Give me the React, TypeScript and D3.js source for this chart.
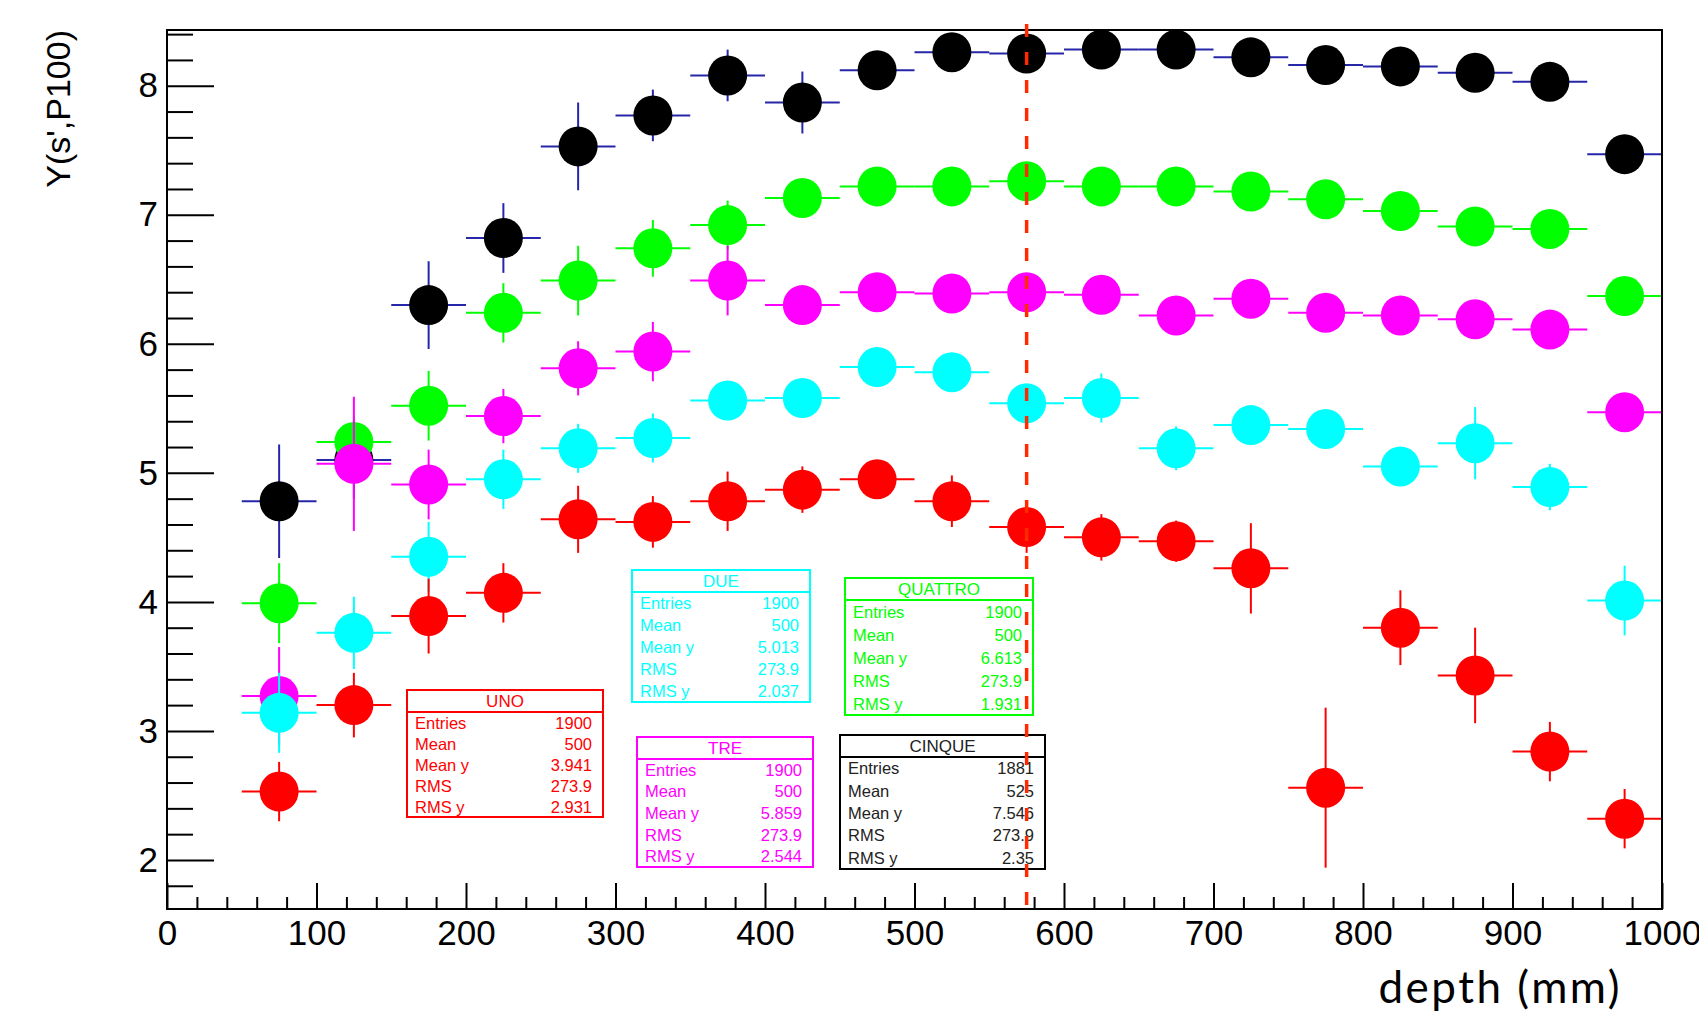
import React, { useEffect, useRef } from 'react';
import * as d3 from 'd3';

// bin centres (mm)
const depth = [75, 125, 175, 225, 275, 325, 375, 425, 475, 525, 575, 625, 675, 725, 775, 825, 875, 925, 975];

// values
const uno = [2.53, 3.2, 3.89, 4.07, 4.64, 4.62, 4.78, 4.87, 4.95, 4.78, 4.58, 4.5, 4.47, 4.26, 2.56, 3.8, 3.43, 2.84, 2.32];
const unoErr = [0.23, 0.25, 0.29, 0.23, 0.26, 0.2, 0.23, 0.18, 0.14, 0.2, 0.2, 0.18, 0.16, 0.35, 0.62, 0.29, 0.37, 0.23, 0.23];

const due = [3.14, 3.76, 4.35, 4.95, 5.19, 5.27, 5.56, 5.58, 5.82, 5.78, 5.54, 5.58, 5.19, 5.37, 5.34, 5.05, 5.23, 4.89, 4.01];
const dueErr = [0.31, 0.28, 0.27, 0.23, 0.19, 0.19, 0.13, 0.13, 0.12, 0.12, 0.12, 0.19, 0.17, 0.13, 0.13, 0.12, 0.28, 0.18, 0.27];

const tre = [3.27, 5.07, 4.91, 5.44, 5.81, 5.94, 6.49, 6.3, 6.4, 6.39, 6.4, 6.38, 6.22, 6.35, 6.24, 6.22, 6.19, 6.11, 5.47];
const treErr = [0.38, 0.52, 0.27, 0.21, 0.21, 0.23, 0.27, 0.13, 0.12, 0.1, 0.1, 0.1, 0.1, 0.1, 0.1, 0.1, 0.1, 0.1, 0.13];

const quattro = [3.99, 5.24, 5.52, 6.24, 6.49, 6.74, 6.92, 7.13, 7.22, 7.22, 7.26, 7.22, 7.22, 7.18, 7.12, 7.03, 6.91, 6.89, 6.37];
const quattroErr = [0.31, 0.2, 0.27, 0.23, 0.27, 0.22, 0.19, 0.12, 0.1, 0.1, 0.1, 0.1, 0.1, 0.1, 0.1, 0.1, 0.1, 0.1, 0.12];

const cinque = [4.78, 5.1, 6.3, 6.82, 7.53, 7.77, 8.08, 7.87, 8.12, 8.26, 8.25, 8.28, 8.28, 8.22, 8.16, 8.15, 8.1, 8.03, 7.47];
const cinqueErr = [0.44, 0.3, 0.34, 0.27, 0.34, 0.2, 0.2, 0.24, 0.12, 0.1, 0.12, 0.1, 0.1, 0.1, 0.12, 0.1, 0.12, 0.12, 0.12];

const xTicks = [0, 100, 200, 300, 400, 500, 600, 700, 800, 900, 1000];
const yTicks = [2, 3, 4, 5, 6, 7, 8];
const cutDepth = 575;

const statLabels = ['Entries', 'Mean', 'Mean y', 'RMS', 'RMS y'];
const unoStats = ['1900', '500', '3.941', '273.9', '2.931'];
const dueStats = ['1900', '500', '5.013', '273.9', '2.037'];
const treStats = ['1900', '500', '5.859', '273.9', '2.544'];
const quattroStats = ['1900', '500', '6.613', '273.9', '1.931'];
const cinqueStats = ['1881', '525', '7.546', '273.9', '2.35'];

const W = 1699, H = 1014;
const margin = { left: 167, right: 1662, top: 30, bottom: 909 };
const font = '"Liberation Sans", Arial, Helvetica, sans-serif';

// drawing order: last one on top
const series = [
  { name: 'CINQUE', color: '#000000', bar: '#2626a8', values: cinque, errs: cinqueErr },
  { name: 'QUATTRO', color: '#00ff00', bar: '#00ff00', values: quattro, errs: quattroErr },
  { name: 'TRE', color: '#ff00ff', bar: '#ff00ff', values: tre, errs: treErr },
  { name: 'DUE', color: '#00ffff', bar: '#00ffff', values: due, errs: dueErr },
  { name: 'UNO', color: '#ff0000', bar: '#ff0000', values: uno, errs: unoErr },
];

// stat box geometry (x0, y0, x1, y1)
const boxes = [
  { name: 'UNO', color: '#ff0000', text: '#ff0000', stats: unoStats, box: [407, 690, 603, 817] },
  { name: 'DUE', color: '#00ffff', text: '#00ffff', stats: dueStats, box: [632, 570, 810, 702] },
  { name: 'TRE', color: '#ff00ff', text: '#ff00ff', stats: treStats, box: [637, 737, 813, 867] },
  { name: 'QUATTRO', color: '#00ff00', text: '#00ff00', stats: quattroStats, box: [845, 578, 1033, 715] },
  { name: 'CINQUE', color: '#000000', text: '#222222', stats: cinqueStats, box: [840, 735, 1045, 869] },
];

export default function App() {
  const axRef = useRef<SVGGElement>(null);

  const x = d3.scaleLinear().domain([0, 1000]).range([margin.left, margin.right]);
  const y = d3.scaleLinear().domain([1.62, 8.432]).range([margin.bottom, margin.top]);

  useEffect(() => {
    const g = d3.select(axRef.current);
    g.selectAll('*').remove();

    const xMinor = d3.range(0, 1001, 20).filter(v => v % 100 !== 0);
    const yMinor = d3.range(1.8, 8.43, 0.2).filter(v => Math.abs(v - Math.round(v)) > 0.01);

    const style = (sel: any) => {
      sel.select('.domain').remove();
      sel.selectAll('line').attr('stroke', '#000').attr('stroke-width', 2);
      sel.selectAll('text').attr('fill', '#000').style('font-family', font).style('font-size', '35px');
    };

    g.append('g').attr('transform', `translate(0,${margin.bottom})`)
      .call(d3.axisBottom(x).tickValues(xMinor).tickSize(-12).tickFormat(() => ''))
      .call(style);
    g.append('g').attr('transform', `translate(0,${margin.bottom})`)
      .call(d3.axisBottom(x).tickValues(xTicks).tickSize(-26).tickPadding(11).tickFormat(d3.format('d')))
      .call(style);
    g.append('g').attr('transform', `translate(${margin.left},0)`)
      .call(d3.axisLeft(y).tickValues(yMinor).tickSize(-26).tickFormat(() => ''))
      .call(style);
    g.append('g').attr('transform', `translate(${margin.left},0)`)
      .call(d3.axisLeft(y).tickValues(yTicks).tickSize(-47).tickPadding(9).tickFormat(d3.format('d')))
      .call(style);
  }, []);

  const half = 25;

  return (
    <svg width={W} height={H} style={{ position: 'absolute', left: 0, top: 0, background: '#fff' }}>
      <rect x={0} y={0} width={W} height={H} fill="#fff" />

      {series.map(s => (
        <g key={s.name}>
          {depth.map((d, i) => (
            <g key={i}>
              <line x1={x(d - half)} x2={x(d + half)} y1={y(s.values[i])} y2={y(s.values[i])} stroke={s.bar} strokeWidth={2} />
              <line x1={x(d)} x2={x(d)} y1={y(s.values[i] - s.errs[i])} y2={y(s.values[i] + s.errs[i])} stroke={s.bar} strokeWidth={2} />
              <ellipse cx={x(d)} cy={y(s.values[i])} rx={19.5} ry={20} fill={s.color} />
            </g>
          ))}
        </g>
      ))}

      {boxes.map(b => {
        const [x0, y0, x1, y1] = b.box;
        const titleH = 22;
        const rowH = (y1 - y0 - titleH) / statLabels.length;
        return (
          <g key={b.name} style={{ fontFamily: font, fontSize: 16.5 }}>
            <rect x={x0} y={y0} width={x1 - x0} height={y1 - y0} fill="#fff" stroke={b.color} strokeWidth={2} />
            <line x1={x0} x2={x1} y1={y0 + titleH} y2={y0 + titleH} stroke={b.color} strokeWidth={2} />
            <text x={(x0 + x1) / 2} y={y0 + titleH / 2 + 6} textAnchor="middle" fill={b.text} fontSize={17}>{b.name}</text>
            {statLabels.map((lab, i) => {
              const cy = y0 + titleH + rowH * (i + 0.5) + 6;
              return (
                <g key={lab}>
                  <text x={x0 + 8} y={cy} fill={b.text}>{lab}</text>
                  <text x={x1 - 11} y={cy} fill={b.text} textAnchor="end">{b.stats[i]}</text>
                </g>
              );
            })}
          </g>
        );
      })}

      <g ref={axRef} />
      <rect x={margin.left} y={margin.top} width={margin.right - margin.left} height={margin.bottom - margin.top}
        fill="none" stroke="#000" strokeWidth={2} />

      <line x1={x(cutDepth)} x2={x(cutDepth)} y1={24} y2={margin.bottom - 1} stroke="#ff2a00" strokeWidth={3.5} strokeDasharray="13 15" />

      <text transform={`translate(70,30) rotate(-90)`} textAnchor="end" style={{ fontFamily: font, fontSize: 34 }} fill="#000">
        Y(s',P100)
      </text>
      <text x={1622} y={1003} textAnchor="end" style={{ fontFamily: 'Lato, "Open Sans", sans-serif', fontSize: 44, letterSpacing: 2.5 }} fill="#000">
        depth (mm)
      </text>
    </svg>
  );
}
